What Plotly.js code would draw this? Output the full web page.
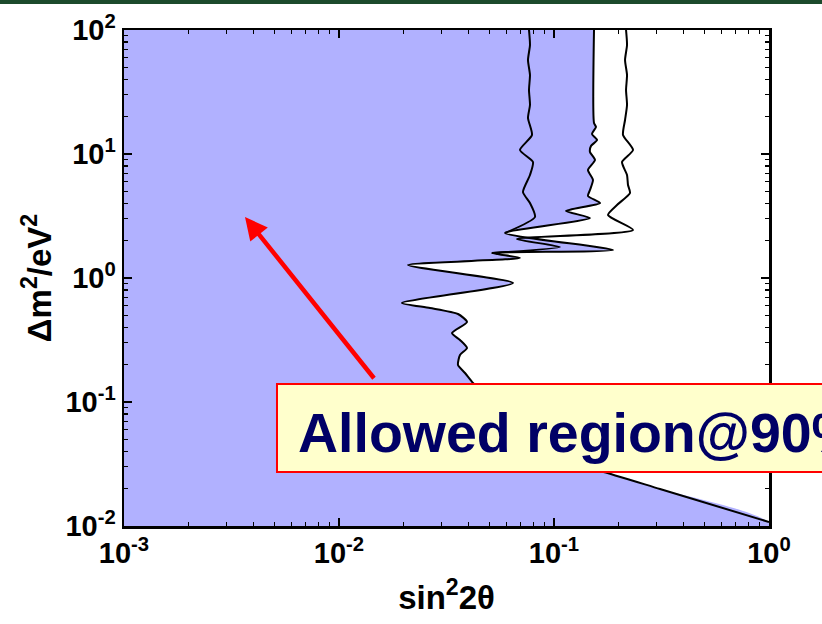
<!DOCTYPE html>
<html>
<head>
<meta charset="utf-8">
<script src="https://cdn.plot.ly/plotly-3.0.1.min.js"></script>
<style>
html,body{margin:0;padding:0;background:#fff;}
#chart{width:822px;height:624px;}
</style>
</head>
<body>
<div id="chart"></div>
<script>
// Filled contour boundary (sin^2 2theta, delta m^2 in eV^2)
const boundarySin2 = [0.1535,0.1535,0.1568,0.1502,0.1585,0.1486,0.1470,0.1551,0.1439,0.1518,0.1470,0.1439,0.1637,0.1137,0.1470,0.05917,0.1881,0.05148,0.06947,0.02094,0.06445,0.01963,0.02650,0.03577,0.03939,0.03354,0.03654,0.03939,0.03654,0.03577,0.03855,0.04200,0.05039,0.06947,0.1066,0.1637,0.3112,1.0];
const boundaryDm2  = [100,17.78,16.51,14.50,12.97,11.60,10.38,8.945,7.430,6.171,5.124,4.585,4.025,3.470,3.047,2.306,1.682,1.591,1.450,1.273,0.9113,0.6286,0.5729,0.5124,0.4416,0.3601,0.3162,0.2726,0.2393,0.1988,0.1713,0.1423,0.1038,0.05945,0.03282,0.02777,0.01988,0.01077];

// Inner contour line
const innerSin2 = [0.07650,0.07732,0.07568,0.07732,0.07650,0.07732,0.07568,0.07899,0.06947,0.07984,0.07732,0.07173,0.07732,0.08157,0.05917];
const innerDm2  = [100,75.68,57.29,43.36,32.82,24.84,19.51,14.23,10.77,8.619,6.771,4.937,4.025,3.104,2.306];

// Outer contour line
const outerSin2 = [0.2163,0.2186,0.2140,0.2186,0.2163,0.2186,0.2140,0.2094,0.2331,0.2072,0.2186,0.2209,0.2257,0.1963,0.1783,0.2331,0.06727,0.1066,0.05148];
const outerDm2  = [100,75.68,57.29,43.36,32.82,24.84,18.80,14.23,10.77,8.619,6.771,5.623,4.847,3.879,3.222,2.438,2.063,1.778,1.591];

// Axis ticks
const xTickVals = [0.001,0.01,0.1,1];
const xTickText = ['10<sup>-3</sup>','10<sup>-2</sup>','10<sup>-1</sup>','10<sup>0</sup>'];
const yTickVals = [0.01,0.1,1,10,100];
const yTickText = ['10<sup>-2</sup>','10<sup>-1</sup>','10<sup>0</sup>','10<sup>1</sup>','10<sup>2</sup>'];

const fillColor = '#b1b1ff';

// polygon for the shaded region: boundary plus corners beyond the axes
const polyX = [1e-4, boundarySin2[0]].concat(boundarySin2, [3, 1e-4, 1e-4]);
const polyY = [1000, 1000].concat(boundaryDm2, [0.001, 0.001, 1000]);

const lineStyle = {color:'#000', width:2, shape:'spline', smoothing:0.6};

const traces = [
  {x: polyX, y: polyY, type:'scatter', mode:'lines', fill:'toself', fillcolor:fillColor,
   line:{width:0, shape:'spline', smoothing:0.6}, hoverinfo:'skip', showlegend:false},
  {x: boundarySin2, y: boundaryDm2, type:'scatter', mode:'lines', line:lineStyle, showlegend:false},
  {x: innerSin2, y: innerDm2, type:'scatter', mode:'lines', line:lineStyle, showlegend:false},
  {x: outerSin2, y: outerDm2, type:'scatter', mode:'lines', line:lineStyle, showlegend:false}
];

const tickFont = {family:'"Liberation Sans Narrow", "Liberation Sans", Arial, sans-serif', size:29, color:'#000', weight:'bold'};
const titleFont = {family:'"Liberation Sans", Arial, sans-serif', size:33, color:'#000', weight:'bold'};

const axisCommon = {
  type:'log', showgrid:false, zeroline:false,
  showline:true, linecolor:'#000', linewidth:2.5, mirror:'ticks',
  ticks:'inside', ticklen:8, tickwidth:1.5, tickcolor:'#000',
  tickmode:'array', tickfont:tickFont,
  minor:{ticks:'inside', ticklen:4, tickwidth:1.2, tickcolor:'#000', dtick:'D1', showgrid:false}
};

const layout = {
  width:822, height:624,
  margin:{l:124, r:53, t:30, b:98},
  paper_bgcolor:'#fff', plot_bgcolor:'#fff',
  xaxis: Object.assign({}, axisCommon, {
    range:[-3,0], tickvals:xTickVals, ticktext:xTickText,
    title:{text:'sin<sup>2</sup>2θ', font:titleFont, standoff:18}
  }),
  yaxis: Object.assign({}, axisCommon, {
    range:[-2,2], tickvals:yTickVals, ticktext:yTickText,
    title:{text:'Δm<sup>2</sup>/eV<sup>2</sup>', font:titleFont, standoff:4}
  }),
  shapes:[
    {type:'rect', xref:'paper', yref:'paper', x0:-0.2, x1:1.1, y0:1.0524, y1:1.07,
     fillcolor:'#1c4a2c', line:{width:0}, layer:'above'},
    {type:'rect', xref:'paper', yref:'paper', x0:0.2372, x1:1.2, y0:0.1089, y1:0.2863,
     fillcolor:'#ffffcc', line:{color:'#ff0000', width:2}, layer:'above'}
  ],
  annotations:[
    {xref:'paper', yref:'paper', x:0.2667, y:0.1865, xanchor:'left', yanchor:'middle',
     text:'Allowed region@90%', showarrow:false,
     font:{family:'"Liberation Sans", Arial, sans-serif', size:55.5, color:'#000066', weight:'bold'}},
    {xref:'paper', yref:'paper', x:0.1876, y:0.623, text:' ', showarrow:true,
     ax:132, ay:165, arrowhead:2, arrowsize:1, arrowwidth:4.5, arrowcolor:'#ff0000', standoff:0}
  ],
  showlegend:false
};

Plotly.newPlot('chart', traces, layout, {displayModeBar:false, staticPlot:true});
</script>
</body>
</html>
